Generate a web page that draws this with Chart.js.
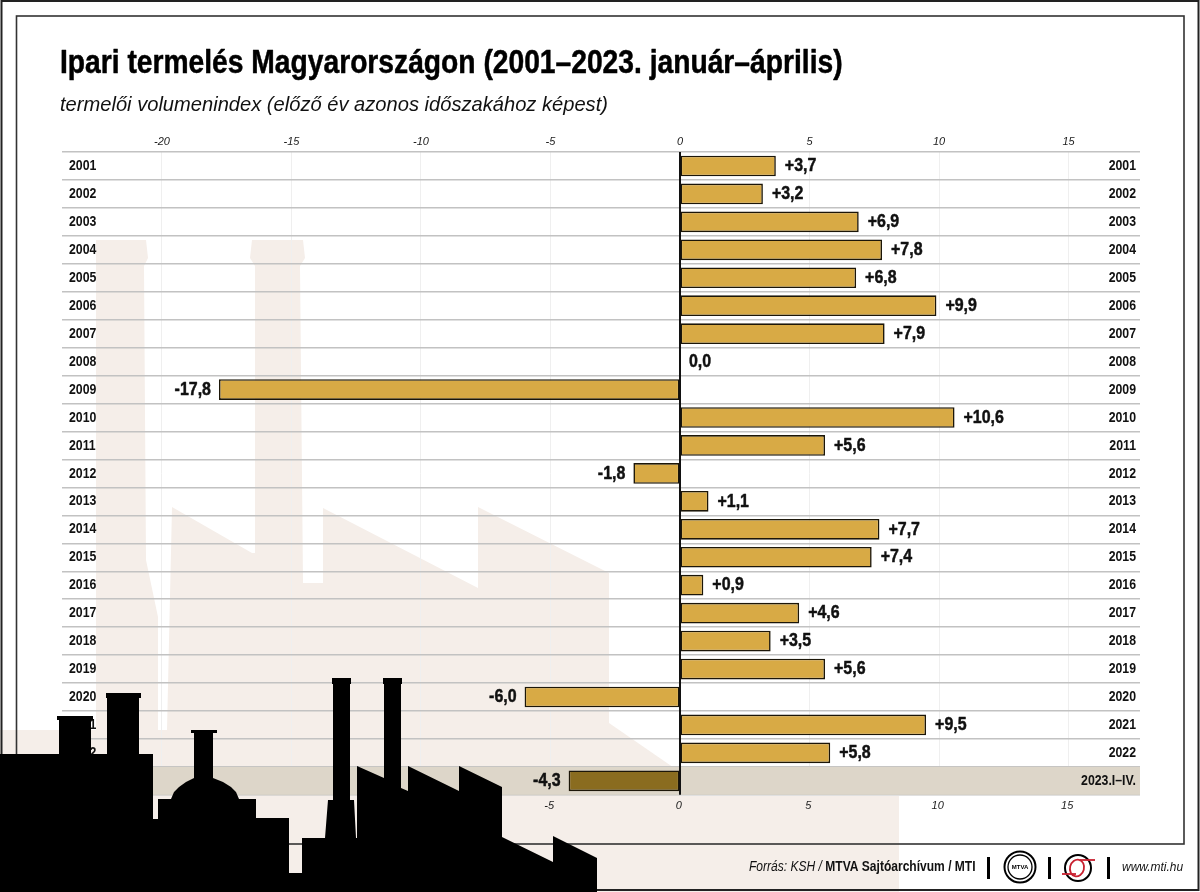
<!DOCTYPE html>
<html lang="hu">
<head>
<meta charset="utf-8">
<title>Ipari termelés Magyarországon</title>
<style>
html,body{margin:0;padding:0;background:#fff;overflow:hidden}
#wrap{position:relative;width:1200px;height:892px}
canvas{display:block}
</style>
<script src="https://cdn.jsdelivr.net/npm/chart.js@4"></script>
</head>
<body>
<div id="wrap"><canvas id="c" width="1200" height="892"></canvas></div>
<script>
const categories = ['2001','2002','2003','2004','2005','2006','2007','2008','2009','2010','2011','2012','2013','2014','2015','2016','2017','2018','2019','2020','2021','2022','2023.I–IV.'];
const values = [3.7,3.2,6.9,7.8,6.8,9.9,7.9,0.0,-17.8,10.6,5.6,-1.8,1.1,7.7,7.4,0.9,4.6,3.5,5.6,-6.0,9.5,5.8,-4.3];
const titleText = 'Ipari termelés Magyarországon (2001–2023. január–április)';
const subtitleText = 'termelői volumenindex (előző év azonos időszakához képest)';
const sourceItalic = 'Forrás: KSH / ';
const sourceBold = 'MTVA Sajtóarchívum / MTI';
const siteText = 'www.mti.hu';
const logoText = 'MTVA';

const GOLD = '#D8AA45', DARK = '#8A6C1F', PALE = '#F5EEE9', BAND = '#DDD6C9';
const SANS = '"Liberation Sans",sans-serif';

// The reference uses a condensed face: squeeze text horizontally by font size/weight.
function squeezeOf(font){
  if (/^bold 33px/.test(font)) return 0.855;
  if (/bold 19px/.test(font)) return 0.84;
  if (/bold 15px/.test(font)) return 0.82;
  if (/italic.* 21px/.test(font)) return 0.958;
  if (/bold 14px/.test(font) || /italic 14px/.test(font)) return 0.86;
  if (/italic 13px/.test(font)) return 0.92;
  return 1;
}
const canvasEl = document.getElementById('c');
const c2d = canvasEl.getContext('2d');
const rawFillText = c2d.fillText.bind(c2d);
c2d.fillText = function(t,x,y,m){
  const k = squeezeOf(c2d.font);
  if (k === 1) return m === undefined ? rawFillText(t,x,y) : rawFillText(t,x,y,m);
  c2d.save(); c2d.translate(x,y); c2d.scale(k,1); rawFillText(t,0,0);
  if (/bold (19|33)px/.test(c2d.font)) { c2d.strokeStyle = c2d.fillStyle; c2d.lineWidth = 0.5; c2d.lineJoin = 'round'; c2d.strokeText(t,0,0); }
  c2d.restore();
};

function fmt(v){
  const s = Math.abs(v).toFixed(1).replace('.',',');
  return v > 0 ? '+'+s : v < 0 ? '-'+s : s;
}
function poly(ctx, pts){
  ctx.beginPath();
  pts.forEach((p,i)=> i ? ctx.lineTo(p[0],p[1]) : ctx.moveTo(p[0],p[1]));
  ctx.closePath(); ctx.fill();
}
const backdrop = {
  id:'backdrop',
  beforeDraw(chart){
    const ctx = chart.ctx;
    ctx.save();
    ctx.fillStyle = '#fff'; ctx.fillRect(0,0,1200,892);
    // pale factory silhouette
    ctx.fillStyle = PALE;
    poly(ctx,[[96,240],[146,240],[148,258],[144,266],[146,560],[158,617],[158,730],[167,730],[172,507],[252,553],[255,553],[255,266],[250,258],[252,240],[303,240],[305,258],[300,266],[303,583],[323,583],[323,508],[478,588],[478,507],[609,573],[609,723],[680,772],[680,796],[899,796],[899,892],[0,892],[0,730],[96,730]]);
    // frames
    ctx.strokeStyle = '#222'; ctx.lineWidth = 2;
    ctx.strokeRect(1.5,1,1197,889);
    ctx.strokeStyle = '#333'; ctx.lineWidth = 1.6;
    ctx.strokeRect(16.5,16,1167.5,828);
    ctx.restore();
  },
  beforeDatasetsDraw(chart){
    const ctx = chart.ctx, a = chart.chartArea, y = chart.scales.y;
    // highlighted last row
    const half = (y.getPixelForValue(1)-y.getPixelForValue(0))/2;
    const cy = y.getPixelForValue(categories.length-1);
    ctx.save();
    ctx.fillStyle = BAND;
    ctx.fillRect(a.left,cy-half,a.right-a.left,half*2);
    ctx.restore();
  },
  afterDatasetsDraw(chart){
    const ctx = chart.ctx, x = chart.scales.xTop, y = chart.scales.y, a = chart.chartArea;
    ctx.save();
    // zero line
    ctx.strokeStyle = '#111'; ctx.lineWidth = 2;
    ctx.beginPath(); ctx.moveTo(x.getPixelForValue(0),a.top); ctx.lineTo(x.getPixelForValue(0),a.bottom); ctx.stroke();
    // value labels
    ctx.fillStyle = '#111';
    ctx.font = 'bold 19px '+SANS;
    ctx.textBaseline = 'middle';
    values.forEach((v,i)=>{
      const px = x.getPixelForValue(v), py = y.getPixelForValue(i);
      ctx.textAlign = v < 0 ? 'right' : 'left';
      ctx.fillText(fmt(v), px + (v < 0 ? -8 : 9), py);
    });
    ctx.restore();
  },
  afterDraw(chart){
    const ctx = chart.ctx;
    ctx.save();
    // black factory silhouette
    ctx.fillStyle = '#000';
    poly(ctx,[[0,892],[0,754],[59,754],[59,720],[57,720],[57,716],[93,716],[93,720],[91,720],[91,754],[107,754],[107,698],[106,698],[106,693],[141,693],[141,698],[139,698],[139,754],[153,754],[153,819],[158,819],[158,799],[171,799],[174,792],[179,787],[186,782],[194,778],[194,733],[191,733],[191,730],[217,730],[217,733],[213,733],[213,778],[223,782],[231,787],[236,792],[239,799],[256,799],[256,818],[289,818],[289,873],[302,873],[302,838],[325,838],[328,800],[333,800],[333,684],[332,684],[332,678],[351,678],[351,684],[350,684],[350,800],[354,800],[356,838],[357,838],[357,766],[384,778],[384,684],[383,684],[383,678],[402,678],[402,684],[401,684],[401,788],[408,791],[408,766],[459,791],[459,766],[502,787],[502,837],[553,862],[553,836],[597,858],[597,892]]);
    // footer
    ctx.textBaseline = 'middle'; ctx.textAlign = 'left'; ctx.fillStyle = '#111';
    ctx.font = 'italic 14px '+SANS;
    ctx.fillText(sourceItalic,749,867);
    const w = ctx.measureText(sourceItalic).width*0.86;
    ctx.font = 'bold 14px '+SANS;
    ctx.fillText(sourceBold,749+w,867);
    ctx.font = 'italic 13px '+SANS;
    ctx.fillText(siteText,1122,867);
    ctx.fillStyle = '#000';
    [987,1048,1107].forEach(sx=>ctx.fillRect(sx,857,3,22));
    // logos
    ctx.strokeStyle = '#000';
    ctx.lineWidth = 2;
    ctx.beginPath(); ctx.arc(1020,867,15.5,0,Math.PI*2); ctx.stroke();
    ctx.lineWidth = 1.3;
    ctx.beginPath(); ctx.arc(1020,867,12,0,Math.PI*2); ctx.stroke();
    ctx.font = 'bold 6px '+SANS; ctx.textAlign = 'center';
    ctx.fillText(logoText,1020,867.5);
    ctx.lineWidth = 2;
    ctx.beginPath(); ctx.arc(1078,868,13,0,Math.PI*2); ctx.stroke();
    ctx.strokeStyle = '#C8202F'; ctx.lineWidth = 1.8;
    ctx.beginPath(); ctx.ellipse(1077,868,7,8.5,0.25,0,Math.PI*2); ctx.stroke();
    ctx.beginPath(); ctx.moveTo(1062,874); ctx.lineTo(1076,874); ctx.stroke();
    ctx.beginPath(); ctx.moveTo(1080,860); ctx.lineTo(1095,860); ctx.stroke();
    ctx.restore();
  }
};
const xMin = -23.86, xMax = 17.76;
const hTicks = { color:'#222', font:{family:SANS, style:'italic', size:11}, stepSize:5, includeBounds:false, maxRotation:0, autoSkip:false, callback:v=>String(v) };
const vTicks = { color:'#111', font:{family:SANS, weight:'bold', size:15}, mirror:true, autoSkip:false, z:1 };
new Chart(canvasEl,{
  type:'bar',
  data:{ labels:categories, datasets:[{
    data:values, xAxisID:'xTop', yAxisID:'y',
    backgroundColor:values.map((v,i)=> i===values.length-1 ? DARK : GOLD),
    borderColor:'#1c1608', borderWidth:1.6, borderSkipped:false,
    barPercentage:0.74, categoryPercentage:1
  }]},
  options:{
    indexAxis:'y', responsive:false, animation:false, events:[],
    layout:{ padding:{left:60,right:60,top:44,bottom:74} },
    plugins:{
      legend:{display:false}, tooltip:{enabled:false},
      title:{ display:true, text:titleText, align:'start', color:'#000', font:{family:SANS, weight:'bold', size:33}, padding:{top:0,bottom:9} },
      subtitle:{ display:true, text:subtitleText, align:'start', color:'#111', font:{family:SANS, style:'italic', size:21, weight:'normal'}, padding:{top:0,bottom:15} }
    },
    scales:{
      x:{ position:'bottom', min:xMin+0.05, max:xMax+0.05, type:'linear', grid:{display:false,drawTicks:false}, border:{display:false}, ticks:{...hTicks, padding:5},
          afterBuildTicks:s=>{ s.ticks = s.ticks.filter(t=>t.value>=-5); } },
      xTop:{ position:'top', min:xMin, max:xMax, type:'linear', grid:{color:'#EFEFEF',lineWidth:1,drawTicks:false}, border:{display:false}, ticks:{...hTicks, padding:3} },
      y:{ type:'category', position:'left', offset:true, grid:{offset:true,color:'#C2C2C2',lineWidth:1.4,drawTicks:false}, border:{display:false}, ticks:{...vTicks, padding:7}, afterFit:s=>{s.width=2;} },
      yRight:{ type:'category', labels:categories, position:'right', offset:true, grid:{display:false,drawTicks:false}, border:{display:false}, ticks:{...vTicks, padding:-4}, afterFit:s=>{s.width=0;} }
    }
  },
  plugins:[backdrop]
});
</script>
</body>
</html>
